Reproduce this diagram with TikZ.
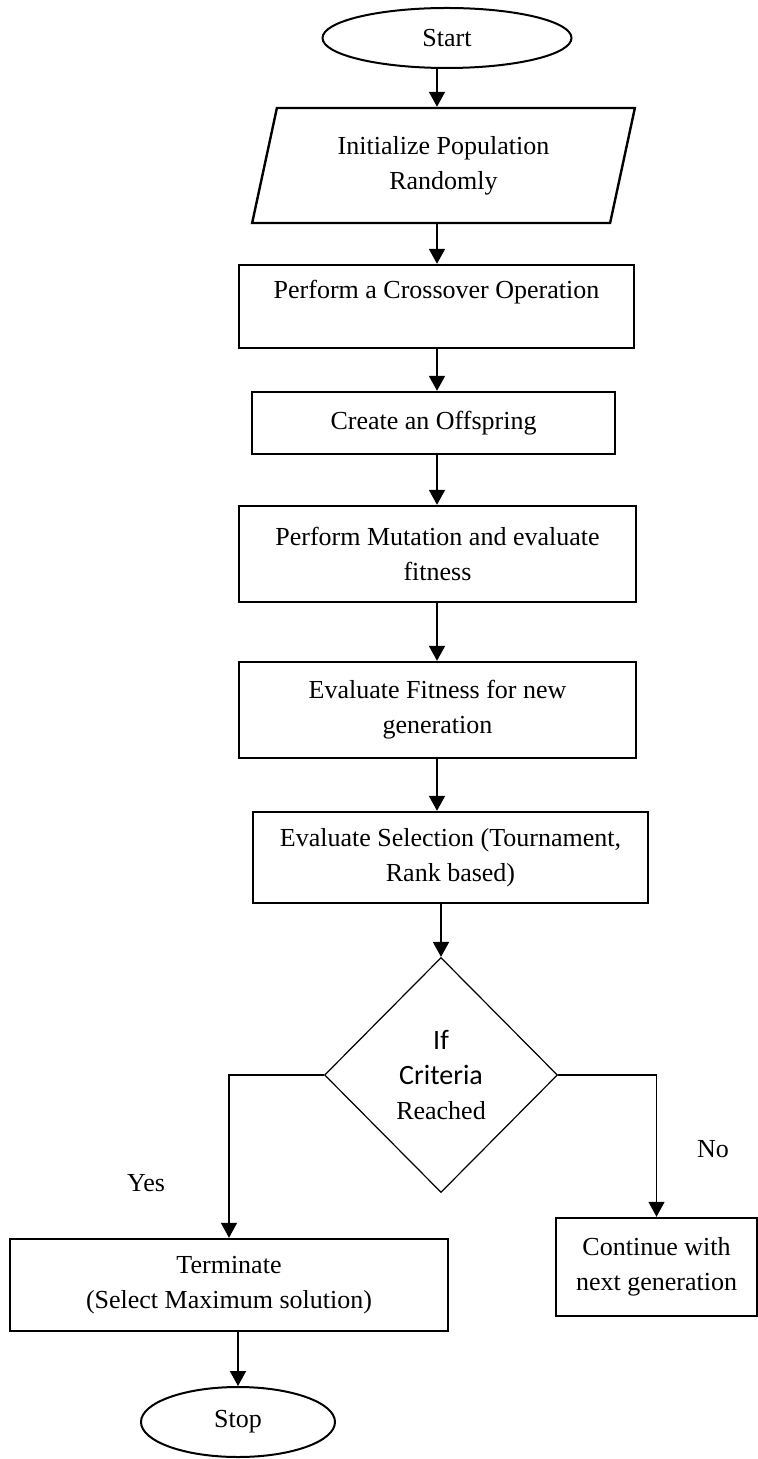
\documentclass[tikz,border=0pt]{standalone}
\usepackage{fontspec}
\setmainfont{Liberation Serif}
\newfontfamily\calibrifont{Carlito}
\usetikzlibrary{shapes.geometric,arrows.meta}

\begin{document}
\begin{tikzpicture}[x=0.5pt,y=-0.5pt,
  txt/.style={font=\fontsize{13}{17.5}\selectfont, align=center},
  proc/.style={txt, draw, line width=1.2pt, rectangle, inner sep=0pt},
  oval/.style={txt, draw, line width=1pt, ellipse, inner sep=0pt},
  conn/.style={->, >={Triangle[length=7.5pt,width=8pt]}, line width=0.9pt}]
\useasboundingbox (0,0) rectangle (758,1459);
\coordinate (spine) at (437,0);
% main column
\node[oval, minimum width=124.5pt, minimum height=30pt] (start) at (447,38) {Start};
\node[txt, draw, line width=1.2pt, trapezium, trapezium left angle=75, trapezium right angle=105, trapezium stretches=true, minimum width=191.5pt, minimum height=57.5pt, inner sep=0pt] (init) at (443.5,165.5) {Initialize Population\\Randomly};
\node[proc, minimum width=197.5pt, minimum height=41.5pt] (cross) at (436.5,306.5) {Perform a Crossover Operation\\~};
\node[proc, minimum width=181.5pt, minimum height=31pt] (offs) at (433.5,423) {Create an Offspring};
\node[proc, minimum width=198.5pt, minimum height=48pt] (mut) at (437.5,554) {Perform Mutation and evaluate\\fitness};
\node[proc, minimum width=198.5pt, minimum height=48pt] (fit) at (437.5,710) {Evaluate Fitness for new\\generation};
\node[proc, minimum width=197.5pt, minimum height=45.5pt] (sel) at (450.5,857.5) {Evaluate Selection (Tournament,\\Rank based)};
\node[txt, draw, diamond, aspect=1, line width=0.6pt, inner sep=0pt, minimum width=116.5pt, minimum height=117.5pt] (crit) at (441,1075) {{\calibrifont\fontsize{14}{17}\selectfont If}\\{\calibrifont\fontsize{14}{17}\selectfont Criteria}\\Reached};
% branches
\node[proc, minimum width=219pt, minimum height=46pt] (term) at (229,1285) {Terminate\\(Select Maximum solution)};
\node[proc, minimum width=100.5pt, minimum height=49pt] (cont) at (656.5,1267) {Continue with\\next generation};
\node[oval, minimum width=97pt, minimum height=35pt] (stop) at (238,1422) {Stop};
\node[txt] (yes) at (146,1183) {Yes};
\node[txt] (no) at (713,1149) {No};

\draw[conn] (start.south -| spine) -- (init.north -| spine);
\draw[conn] (init.south -| spine) -- (cross.north -| spine);
\draw[conn] (cross.south -| spine) -- (offs.north -| spine);
\draw[conn] (offs.south -| spine) -- (mut.north -| spine);
\draw[conn] (mut.south -| spine) -- (fit.north -| spine);
\draw[conn] (fit.south -| spine) -- (sel.north -| spine);
\draw[conn] (sel.south -| crit.north) -- (crit.north);
\draw[conn, line width=0.7pt] (crit.west) -| (term);
\draw[conn, line width=0.7pt] (crit.east) -| (cont);
\draw[conn] (term.south -| stop.north) -- (stop.north);
\end{tikzpicture}
\end{document}
